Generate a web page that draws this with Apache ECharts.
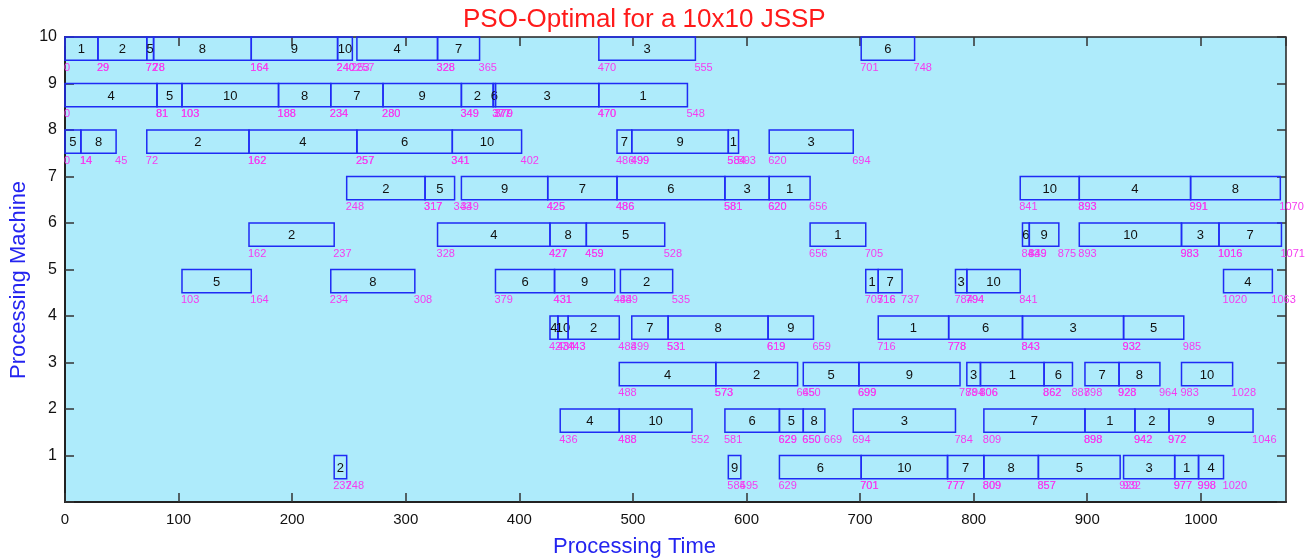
<!DOCTYPE html>
<html>
<head>
<meta charset="utf-8">
<script src="https://cdn.jsdelivr.net/npm/echarts@6/dist/echarts.min.js"></script>
<style>
html,body{margin:0;padding:0;background:#fff}
#chart{width:1314px;height:559px}
</style>
</head>
<body>
<div id="chart"></div>
<script>
// each row: [job, start, end]
var machine10 = [[1,0,29],[2,29,72],[5,72,78],[8,78,164],[9,164,240],[10,240,253],[4,257,328],[7,328,365],[3,470,555],[6,701,748]];
var machine9 = [[4,0,81],[5,81,103],[10,103,188],[8,188,234],[7,234,280],[9,280,349],[2,349,377],[6,377,379],[3,379,470],[1,470,548]];
var machine8 = [[5,0,14],[8,14,45],[2,72,162],[4,162,257],[6,257,341],[10,341,402],[7,486,499],[9,499,584],[1,584,593],[3,620,694]];
var machine7 = [[2,248,317],[5,317,343],[9,349,425],[7,425,486],[6,486,581],[3,581,620],[1,620,656],[10,841,893],[4,893,991],[8,991,1070]];
var machine6 = [[2,162,237],[4,328,427],[8,427,459],[5,459,528],[1,656,705],[6,843,849],[9,849,875],[10,893,983],[3,983,1016],[7,1016,1071]];
var machine5 = [[5,103,164],[8,234,308],[6,379,431],[9,431,484],[2,489,535],[1,705,716],[7,716,737],[3,784,794],[10,794,841],[4,1020,1063]];
var machine4 = [[4,427,434],[10,434,443],[2,443,488],[7,499,531],[8,531,619],[9,619,659],[1,716,778],[6,778,843],[3,843,932],[5,932,985]];
var machine3 = [[4,488,573],[2,573,645],[5,650,699],[9,699,788],[3,794,806],[1,806,862],[6,862,887],[7,898,928],[8,928,964],[10,983,1028]];
var machine2 = [[4,436,488],[10,488,552],[6,581,629],[5,629,650],[8,650,669],[3,694,784],[7,809,898],[1,898,942],[2,942,972],[9,972,1046]];
var machine1 = [[2,237,248],[9,584,595],[6,629,701],[10,701,777],[7,777,809],[8,809,857],[5,857,929],[3,932,977],[1,977,998],[4,998,1020]];

var machines = [machine1,machine2,machine3,machine4,machine5,machine6,machine7,machine8,machine9,machine10];
var xTicks = [0,100,200,300,400,500,600,700,800,900,1000];

var rows = [];
machines.forEach(function(list, i){
	list.forEach(function(r){
		rows.push([i+1, r[0], r[1], r[2]]);
	});
});

var font = 'Liberation Sans, Arial, sans-serif';

function renderItem(params, api){
	var m = api.value(0);
	var p0 = api.coord([api.value(2), m]);
	var p1 = api.coord([api.value(3), m-0.5]);
	var w = p1[0]-p0[0], h = p1[1]-p0[1];
	return {
		type:'group',
		children:[
			{type:'rect', shape:{x:p0[0], y:p0[1], width:w, height:h},
				style:{fill:'rgba(0,0,0,0)', stroke:'#1f2bf5', lineWidth:1.5}},
			{type:'text', style:{text:String(api.value(1)), x:p0[0]+w/2, y:p0[1]+h/2+1,
				align:'center', verticalAlign:'middle', fill:'#111', font:'13px '+font}},
			{type:'text', style:{text:String(api.value(2)), x:p0[0]-1, y:p1[1]+2,
				align:'left', verticalAlign:'top', fill:'#f53cf0', font:'11px '+font}},
			{type:'text', style:{text:String(api.value(3)), x:p1[0]-1, y:p1[1]+2,
				align:'left', verticalAlign:'top', fill:'#f53cf0', font:'11px '+font}}
		]
	};
}

var chart = echarts.init(document.getElementById('chart'), null, {renderer:'canvas'});
var tickStyle = {show:true, inside:true, length:9, lineStyle:{color:'#333', width:1.5}};
chart.setOption({
	animation:false,
	grid:{left:65, right:28, top:37, bottom:57, show:true, backgroundColor:'#aeebfb', borderColor:'#222', borderWidth:1.5},
	graphic:[
		{type:'text', left:463, top:7, style:{text:'PSO-Optimal for a 10x10 JSSP', fill:'#ff1a1a', font:'26px '+font}},
		{type:'text', left:553, top:536, style:{text:'Processing Time', fill:'#2424f0', font:'22px '+font}},
		{type:'text', x:8, y:379, rotation:Math.PI/2, style:{text:'Processing Machine', fill:'#2424f0', font:'22px '+font}}
	],
	xAxis:[
		{type:'value', min:0, max:1075, interval:100, position:'bottom',
			axisLine:{show:true, onZero:false, lineStyle:{color:'#222', width:2}},
			axisTick:tickStyle, splitLine:{show:false},
			axisLabel:{color:'#111', fontSize:15, fontFamily:font, margin:10, showMaxLabel:false,
				formatter:function(v){ return xTicks.indexOf(v) >= 0 ? String(v) : ''; }}},
		{type:'value', min:0, max:1075, interval:100, position:'top',
			axisLine:{show:false, onZero:false}, axisTick:tickStyle, axisLabel:{show:false}, splitLine:{show:false}}
	],
	yAxis:[
		{type:'value', min:0, max:10, interval:1, position:'left',
			axisLine:{show:true, onZero:false, lineStyle:{color:'#222', width:2}},
			axisTick:tickStyle, splitLine:{show:false},
			axisLabel:{color:'#111', fontSize:16, fontFamily:font, margin:8,
				formatter:function(v){ return v === 0 ? '' : String(v); }}},
		{type:'value', min:0, max:10, interval:1, position:'right',
			axisLine:{show:false, onZero:false}, axisTick:tickStyle, axisLabel:{show:false}, splitLine:{show:false}}
	],
	series:[{
		type:'custom',
		renderItem:renderItem,
		encode:{x:[2,3], y:0},
		data:rows,
		clip:false
	}]
});
</script>
</body>
</html>
